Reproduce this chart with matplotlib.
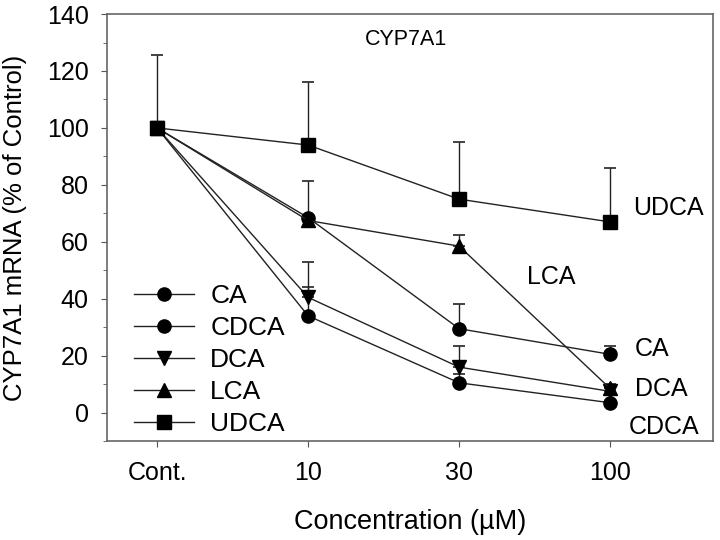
import matplotlib
matplotlib.use("Agg")
import matplotlib.pyplot as plt
from matplotlib.ticker import MultipleLocator

plt.rcParams['font.family'] = ['Liberation Sans', 'DejaVu Sans']

x_labels = ["Cont.", "10", "30", "100"]
series = ["CA", "CDCA", "DCA", "LCA", "UDCA"]
markers = ["o", "o", "v", "^", "s"]

ca = [100, 68.5, 29.5, 20.5]
ca_err = [25.5, 13, 8.5, 3]
cdca = [100, 34, 10.5, 3.5]
cdca_err = [0, 10, 3, 0]
dca = [100, 40.5, 16, 7.5]
dca_err = [0, 12.5, 7.5, 1]
lca = [100, 67.5, 58.5, 8.5]
lca_err = [0, 0, 4, 1.5]
udca = [100, 94, 75, 67]
udca_err = [0, 22, 20, 19]

values = [ca, cdca, dca, lca, udca]
errors = [ca_err, cdca_err, dca_err, lca_err, udca_err]

end_labels = ["CA", "CDCA", "DCA", "LCA", "UDCA"]
end_label_pos = [(3.165, 22.5), (3.125, -4.9), (3.165, 8.4), (2.45, 47.8), (3.155, 71.8)]

fig = plt.figure(figsize=(7.2, 5.4), dpi=100)
ax = fig.add_axes([0.149, 0.183, 0.841, 0.791])

xs = list(range(len(x_labels)))
handles = []
for name, m, v, e in zip(series, markers, values, errors):
    ax.errorbar(xs, v, yerr=[[0]*len(e), e], fmt='none', ecolor='#222222',
                elinewidth=1.0, capsize=4.5, capthick=1.2, zorder=2)
    h, = ax.plot(xs, v, color='#222222', lw=1.0, marker=m, markersize=9.5,
                 markerfacecolor='black', markeredgecolor='black', label=name, zorder=3)
    handles.append(h)

for lab, (lx, ly) in zip(end_labels, end_label_pos):
    ax.text(lx, ly, lab, fontsize=18, ha='left', va='center')

ax.text(1.65, 131, "CYP7A1", fontsize=15.5, ha='center', va='center')

ax.set_xlim(-0.33, 3.68)
ax.set_ylim(-10, 140)
ax.set_xticks(xs)
ax.set_xticklabels(x_labels, fontsize=18)
ax.set_yticks(range(0, 141, 20))
ax.yaxis.set_minor_locator(MultipleLocator(10))
ax.tick_params(axis='y', labelsize=18, direction='out', length=4.5, color='#555555', pad=9)
ax.tick_params(axis='y', which='minor', direction='out', length=3, color='#555555')
ax.tick_params(axis='x', labelsize=18, direction='out', length=4.5, color='#555555', pad=10)
for s in ax.spines.values():
    s.set_color('#666666')
    s.set_linewidth(1.2)

ax.set_xlabel("Concentration (\u00b5M)", fontsize=19.5, labelpad=17)
ax.set_ylabel("CYP7A1 mRNA (% of Control)", fontsize=18.5, labelpad=14)

leg = ax.legend(handles=handles, loc='lower left', frameon=False, fontsize=19,
                handlelength=2.3, handletextpad=0.6, labelspacing=0.3,
                borderaxespad=0.0, borderpad=0.2, bbox_to_anchor=(0.035, 0.0))

fig.savefig("out.png", dpi=100)
